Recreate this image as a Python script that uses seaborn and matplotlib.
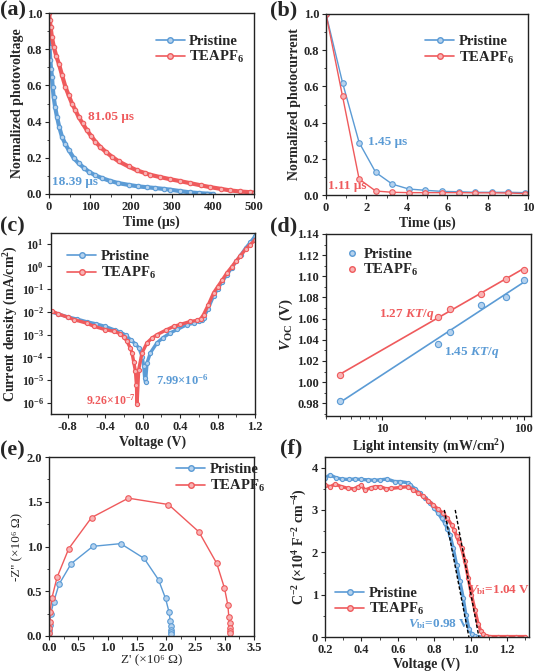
import matplotlib
matplotlib.use("Agg")
import matplotlib.pyplot as plt
from matplotlib.lines import Line2D
from matplotlib.ticker import MultipleLocator, AutoMinorLocator, FixedLocator, NullLocator
import seaborn as sns

# ---- colours ----
BLUE, BLUE_FC = "#5B9BD5", "#B5D2EE"
RED, RED_FC = "#EF5A5C", "#F8B4B5"

# ---- (a) transient photovoltage ----
tpv_t_pristine = [0, 1.5, 3.2, 5, 7.3, 9, 11.3, 15, 19.4, 25, 31.6, 40, 47.9, 60, 72, 85, 96.5,
                  112, 129, 148, 169.5, 195, 218, 240, 259, 280, 295, 320, 344, 365, 385, 400]
tpv_v_pristine = [0.88, 0.81, 0.74, 0.69, 0.647, 0.59, 0.537, 0.48, 0.427, 0.37, 0.317, 0.275,
                  0.244, 0.2, 0.17, 0.145, 0.124, 0.104, 0.088, 0.073, 0.06, 0.05, 0.042, 0.037,
                  0.033, 0.028, 0.024, 0.016, 0.009, 0.005, 0.002, 0.0]
tpv_t_teapf6 = [0, 2, 4, 7, 12, 18, 24, 32, 40, 48, 56, 64, 72, 82, 92, 103, 113, 125, 140, 153,
                170, 194, 215, 235, 247, 270, 295, 320, 344, 370, 393, 420, 441, 465, 490, 500]
tpv_v_teapf6 = [1.0, 0.96, 0.92, 0.867, 0.81, 0.76, 0.72, 0.655, 0.592, 0.545, 0.50, 0.465, 0.427,
                0.39, 0.354, 0.32, 0.29, 0.26, 0.23, 0.207, 0.18, 0.152, 0.13, 0.115, 0.106, 0.094,
                0.082, 0.071, 0.06, 0.048, 0.038, 0.028, 0.02, 0.014, 0.01, 0.008]

# ---- (b) transient photocurrent ----
tpc_t = [0, 0.82, 1.64, 2.46, 3.28, 4.1, 4.92, 5.74, 6.56, 7.38, 8.2, 9.02, 9.84]
tpc_pristine = [1.0, 0.62, 0.29, 0.125, 0.06, 0.033, 0.026, 0.02, 0.018, 0.015, 0.015, 0.015, 0.013]
tpc_teapf6 = [1.0, 0.545, 0.088, 0.022, 0.015, 0.013, 0.013, 0.013, 0.013, 0.012, 0.012, 0.011, 0.008]

# ---- (c) dark J-V ----
jv_v_pristine = [-1.0, -0.9, -0.8, -0.7, -0.6, -0.5, -0.4, -0.3, -0.24, -0.18, -0.13, -0.08, -0.04,
                 -0.007, 0.011, 0.021, 0.03, 0.046, 0.082, 0.153, 0.22, 0.295, 0.37, 0.472, 0.55,
                 0.597, 0.63, 0.65, 0.7, 0.757, 0.8, 0.85, 0.9, 0.95, 1.0, 1.05, 1.1, 1.15, 1.2]
jv_j_pristine = [1.05e-2, 8.0e-3, 6.0e-3, 4.8e-3, 3.7e-3, 3.0e-3, 2.3e-3, 1.6e-3, 1.3e-3, 9.5e-4,
                 6.0e-4, 4.0e-4, 2.6e-4, 1.1e-4, 4.1e-5, 1.3e-5, 7.99e-6, 5.7e-5, 1.6e-4, 4.4e-4,
                 7.5e-4, 1.2e-3, 1.7e-3, 2.75e-3, 3.2e-3, 3.9e-3, 4.6e-3, 5.6e-3, 1.4e-2, 5.0e-2,
                 1.0e-1, 2.1e-1, 4.3e-1, 8.3e-1, 1.66, 3.2, 6.3, 11.2, 21.0]
jv_v_teapf6 = [-1.0, -0.966, -0.9, -0.8, -0.735, -0.6, -0.522, -0.4, -0.309, -0.238, -0.202, -0.167,
               -0.131, -0.114, -0.096, -0.078, -0.067, -0.06, -0.043, -0.007, 0.046, 0.1, 0.153,
               0.25, 0.33, 0.401, 0.508, 0.579, 0.62, 0.65, 0.7, 0.757, 0.8, 0.85, 0.899, 0.95,
               1.0, 1.04, 1.1, 1.15, 1.2]
jv_j_teapf6 = [1.12e-2, 1.07e-2, 8.1e-3, 5.8e-3, 4.6e-3, 3.2e-3, 2.34e-3, 1.66e-3, 1.4e-3, 1.1e-3,
               7.9e-4, 5.1e-4, 2.5e-4, 1.6e-4, 6.3e-5, 2.5e-5, 6.3e-6, 9.26e-7, 2.95e-5, 1.6e-4,
               4.4e-4, 7.1e-4, 1.0e-3, 1.6e-3, 2.3e-3, 2.8e-3, 3.8e-3, 4.2e-3, 5.0e-3, 7.6e-3,
               2.0e-2, 6.8e-2, 1.26e-1, 2.5e-1, 5.1e-1, 9.3e-1, 1.74, 2.75, 5.6, 8.9, 14.1]

# ---- (d) Voc vs light intensity ----
light = [5, 25, 30, 50, 75, 100]
voc_pristine = [0.9825, 1.0365, 1.0478, 1.0730, 1.0803, 1.0964]
voc_teapf6 = [1.0065, 1.0615, 1.0690, 1.0835, 1.0977, 1.1063]

# ---- (e) Nyquist ----
z_re_pristine = [0.005, 0.008, 0.011, 0.03, 0.08, 0.17, 0.377, 0.749, 1.224, 1.624, 1.87, 1.99,
                 2.047, 2.07, 2.08, 2.087, 2.088, 2.089]
z_im_pristine = [0.03, 0.07, 0.123, 0.25, 0.38, 0.576, 0.807, 1.002, 1.032, 0.867, 0.628, 0.419,
                 0.273, 0.172, 0.112, 0.067, 0.045, 0.025]
z_re_teapf6 = [0.005, 0.007, 0.01, 0.02, 0.05, 0.137, 0.337, 0.726, 1.355, 2.04, 2.56, 2.864, 2.996,
               3.053, 3.07, 3.082, 3.082, 3.087, 3.088]
z_im_teapf6 = [0.03, 0.09, 0.16, 0.27, 0.426, 0.654, 0.976, 1.323, 1.54, 1.469, 1.163, 0.811, 0.535,
               0.348, 0.217, 0.142, 0.086, 0.056, 0.035]

# ---- (f) Mott-Schottky ----
ms_v_pristine = [0.2, 0.227, 0.26, 0.291, 0.33, 0.364, 0.4, 0.437, 0.47, 0.503, 0.54, 0.583, 0.612,
                 0.656, 0.667, 0.695, 0.722, 0.75, 0.776, 0.8, 0.822, 0.84, 0.858, 0.872, 0.886,
                 0.904, 0.922, 0.94, 0.959, 0.973, 0.991, 1.005, 1.023, 1.04, 1.06]
ms_c_pristine = [3.75, 3.83, 3.76, 3.73, 3.72, 3.73, 3.72, 3.71, 3.70, 3.71, 3.73, 3.67, 3.67, 3.64,
                 3.59, 3.50, 3.39, 3.28, 3.16, 3.04, 2.92, 2.80, 2.69, 2.55, 2.41, 2.10, 1.71, 1.32,
                 0.92, 0.53, 0.18, 0.07, 0.02, 0.005, 0.0]
ms_v_teapf6 = [0.2, 0.23, 0.255, 0.29, 0.328, 0.36, 0.382, 0.4, 0.419, 0.45, 0.474, 0.503, 0.535,
               0.565, 0.612, 0.656, 0.685, 0.713, 0.74, 0.767, 0.794, 0.82, 0.849, 0.872, 0.895,
               0.91, 0.922, 0.936, 0.95, 0.968, 0.986, 1.004, 1.023, 1.041, 1.055, 1.068, 1.085,
               1.105, 1.15, 1.2, 1.25, 1.3]
ms_c_teapf6 = [3.58, 3.55, 3.61, 3.55, 3.51, 3.50, 3.55, 3.58, 3.47, 3.52, 3.55, 3.55, 3.50, 3.51,
               3.53, 3.55, 3.47, 3.40, 3.32, 3.22, 3.12, 3.02, 2.92, 2.80, 2.65, 2.52, 2.38, 2.24,
               2.10, 1.79, 1.40, 1.00, 0.64, 0.30, 0.15, 0.06, 0.03, 0.01, 0.01, 0.01, 0.01, 0.01]
tangent_v_pristine = [0.855, 0.99]
tangent_v_teapf6 = [0.915, 1.045]
tangent_c = [3.0, 0.0]

sns.set_style("ticks")
plt.rcParams["font.family"] = ["Liberation Serif", "DejaVu Serif"]
plt.rcParams.update({
    "font.weight": "bold",
    "axes.labelweight": "bold",
    "axes.labelsize": 10,
    "xtick.labelsize": 9,
    "ytick.labelsize": 9,
    "axes.linewidth": 1.0,
    "axes.edgecolor": "#222222",
    "xtick.major.size": 3, "ytick.major.size": 3,
    "xtick.minor.size": 1.8, "ytick.minor.size": 1.8,
    "xtick.major.pad": 2, "ytick.major.pad": 2,
    "axes.labelpad": 2,
    "axes.unicode_minus": False,
    "mathtext.fontset": "custom",
    "mathtext.rm": "Liberation Serif:bold",
    "mathtext.bf": "Liberation Serif:bold",
    "mathtext.it": "Liberation Serif:italic:bold",
})

W, H = 536, 671
fig = plt.figure(figsize=(W / 100, H / 100), dpi=100)


def box(l, t, r, b):
    return fig.add_axes([l / W, 1 - b / H, (r - l) / W, (b - t) / H])


def curve(ax, x, y, color, fc, lw=1.0, ms=4):
    sns.lineplot(x=x, y=y, ax=ax, color=color, lw=lw, marker="o", markersize=ms,
                 markerfacecolor=fc, markeredgecolor=color, markeredgewidth=0.8,
                 sort=False, estimator=None, legend=False)


def legend(ax, x, y, line=True):
    ls = "-" if line else "none"
    hs = [Line2D([], [], color=BLUE, ls=ls, lw=1.2, marker="o", ms=4, mfc=BLUE_FC, mec=BLUE),
          Line2D([], [], color=RED, ls=ls, lw=1.2, marker="o", ms=4, mfc=RED_FC, mec=RED)]
    ax.legend(hs, ["Pristine", "TEAPF$_6$"], loc="upper left", bbox_to_anchor=(x, y),
              frameon=False, fontsize=10.5, handlelength=2.0 if line else 1.0,
              handletextpad=0.3, labelspacing=0.1, borderpad=0, borderaxespad=0)


def label(x, y, s):
    fig.text(x / W, 1 - y / H, s, fontsize=16, fontweight="bold", va="top", ha="left")


# (a)
ax = box(49, 13, 254, 194)
curve(ax, tpv_t_pristine, tpv_v_pristine, BLUE, BLUE_FC, lw=3.0, ms=3.2)
curve(ax, tpv_t_teapf6, tpv_v_teapf6, RED, RED_FC, lw=3.0, ms=3.2)
ax.set_xlim(0, 500)
ax.set_ylim(0, 1.0)
ax.xaxis.set_major_locator(MultipleLocator(100))
ax.yaxis.set_major_locator(MultipleLocator(0.2))
ax.xaxis.set_minor_locator(AutoMinorLocator(2))
ax.yaxis.set_minor_locator(AutoMinorLocator(2))
ax.yaxis.set_major_formatter(plt.FormatStrFormatter("%.1f"))
ax.set_xlabel("Time (μs)")
ax.set_ylabel("Normalized photovoltage")
ax.text(94, 0.427, "81.05 μs", color=RED, fontsize=9.5, va="center")
ax.text(8, 0.068, "18.39 μs", color=BLUE, fontsize=9.5, va="center")
legend(ax, 0.52, 0.88)
label(0, 0, "(a)")

# (b)
ax = box(326, 14, 528, 195)
curve(ax, tpc_t, tpc_pristine, BLUE, BLUE_FC)
curve(ax, tpc_t, tpc_teapf6, RED, RED_FC)
ax.set_xlim(0, 10)
ax.set_ylim(0, 1.0)
ax.xaxis.set_major_locator(MultipleLocator(2))
ax.yaxis.set_major_locator(MultipleLocator(0.2))
ax.xaxis.set_minor_locator(AutoMinorLocator(2))
ax.yaxis.set_minor_locator(AutoMinorLocator(2))
ax.yaxis.set_major_formatter(plt.FormatStrFormatter("%.1f"))
ax.set_xlabel("Time (μs)")
ax.set_ylabel("Normalized photocurrent")
ax.text(2.09, 0.295, "1.45 μs", color=BLUE, fontsize=9.5, va="center")
ax.text(0.08, 0.05, "1.11 μs", color=RED, fontsize=9.5, va="center")
legend(ax, 0.49, 0.885)
label(270, 0, "(b)")

# (c)
ax = box(51, 233, 255, 414)
curve(ax, jv_v_pristine, jv_j_pristine, BLUE, BLUE_FC, lw=2.4, ms=3)
curve(ax, jv_v_teapf6, jv_j_teapf6, RED, RED_FC, lw=2.4, ms=3)
ax.set_yscale("log")
ax.set_xlim(-0.98, 1.2)
ax.set_ylim(3.3e-7, 29)
ax.xaxis.set_major_locator(FixedLocator([-0.8, -0.4, 0.0, 0.4, 0.8, 1.2]))
ax.xaxis.set_minor_locator(AutoMinorLocator(2))
ax.yaxis.set_major_locator(FixedLocator([1e-6, 1e-5, 1e-4, 1e-3, 1e-2, 1e-1, 1e0, 1e1]))
ax.yaxis.set_minor_locator(NullLocator())
ax.tick_params(axis="y", labelsize=8.5)
ax.xaxis.set_major_formatter(plt.FormatStrFormatter("%.1f"))
ax.set_xlabel("Voltage (V)")
ax.set_ylabel("Current density (mA/cm$^2$)", labelpad=1)
ax.text(0.142, 1e-5, "7.99×10$^{-6}$", color=BLUE, fontsize=9, va="center")
ax.text(-0.61, 1.3e-6, "9.26×10$^{-7}$", color=RED, fontsize=8.5, va="center")
legend(ax, 0.08, 0.905)
label(0, 216, "(c)")

# (d)
ax = box(326, 234, 531, 416)
sns.regplot(x=light, y=voc_pristine, logx=True, ci=None, scatter=False, ax=ax,
            color=BLUE, line_kws=dict(lw=1.2))
sns.regplot(x=light, y=voc_teapf6, logx=True, ci=None, scatter=False, ax=ax,
            color=RED, line_kws=dict(lw=1.2))
sns.scatterplot(x=light, y=voc_pristine, ax=ax, color=BLUE_FC, edgecolor=BLUE, s=20, lw=0.8, zorder=3)
sns.scatterplot(x=light, y=voc_teapf6, ax=ax, color=RED_FC, edgecolor=RED, s=20, lw=0.8, zorder=3)
ax.set_xscale("log")
ax.set_xlim(4.0, 113)
ax.set_ylim(0.968, 1.14)
ax.xaxis.set_major_locator(FixedLocator([10, 100]))
ax.xaxis.set_major_formatter(plt.FormatStrFormatter("%d"))
ax.yaxis.set_major_locator(MultipleLocator(0.02))
ax.yaxis.set_minor_locator(AutoMinorLocator(2))
ax.yaxis.set_major_formatter(plt.FormatStrFormatter("%.2f"))
ax.set_xlabel("Light intensity (mW/cm$^2$)")
ax.set_ylabel("$V_{\\mathrm{OC}}$ (V)", fontsize=11)
ax.text(9.5, 1.0642, "1.27 $KT/q$", color=RED, fontsize=9.5, va="center")
ax.text(27.5, 1.028, "1.45 $KT/q$", color=BLUE, fontsize=9.5, va="center")
legend(ax, 0.09, 0.925, line=False)
label(270, 216, "(d)")

# (e)
ax = box(49, 457, 254, 636)
curve(ax, z_re_pristine, z_im_pristine, BLUE, BLUE_FC)
curve(ax, z_re_teapf6, z_im_teapf6, RED, RED_FC)
ax.set_xlim(0, 3.5)
ax.set_ylim(0, 2.0)
ax.xaxis.set_major_locator(MultipleLocator(0.5))
ax.yaxis.set_major_locator(MultipleLocator(0.5))
ax.xaxis.set_minor_locator(AutoMinorLocator(2))
ax.yaxis.set_minor_locator(AutoMinorLocator(2))
ax.xaxis.set_major_formatter(plt.FormatStrFormatter("%.1f"))
ax.yaxis.set_major_formatter(plt.FormatStrFormatter("%.1f"))
ax.tick_params(axis="x", pad=1.5)
ax.set_xlabel("Z' (×10⁶ Ω)", fontweight="normal", fontsize=9.5, labelpad=0)
ax.set_ylabel("-Z'' (×10⁶ Ω)", fontweight="normal", fontsize=9.5)
legend(ax, 0.62, 0.965)
label(0, 440, "(e)")

# (f)
ax = box(325, 457, 529, 637)
curve(ax, ms_v_pristine, ms_c_pristine, BLUE, BLUE_FC, lw=2.4, ms=3)
curve(ax, ms_v_teapf6, ms_c_teapf6, RED, RED_FC, lw=2.4, ms=3)
ax.plot(tangent_v_pristine, tangent_c, color="black", ls=(0, (2.5, 1.5)), lw=1.0, zorder=4)
ax.plot(tangent_v_teapf6, tangent_c, color="black", ls=(0, (2.5, 1.5)), lw=1.0, zorder=4)
ax.set_xlim(0.2, 1.32)
ax.set_ylim(0, 4.25)
ax.xaxis.set_major_locator(MultipleLocator(0.2))
ax.yaxis.set_major_locator(MultipleLocator(1))
ax.xaxis.set_minor_locator(AutoMinorLocator(2))
ax.yaxis.set_minor_locator(AutoMinorLocator(2))
ax.xaxis.set_major_formatter(plt.FormatStrFormatter("%.1f"))
ax.set_xlabel("Voltage (V)", labelpad=1)
ax.set_ylabel("C$^{-2}$ (×10$^{4}$ F$^{-2}$ cm$^{-4}$)")
ax.text(0.985, 1.10, "$V_{\\mathrm{bi}}$=1.04 V", color=RED, fontsize=9.5, va="center")
ax.text(0.653, 0.30, "$V_{\\mathrm{bi}}$=0.98 V", color=BLUE, fontsize=9.5, va="center")
legend(ax, 0.05, 0.28)
label(280, 438, "(f)")

fig.savefig("out.png", dpi=100)
